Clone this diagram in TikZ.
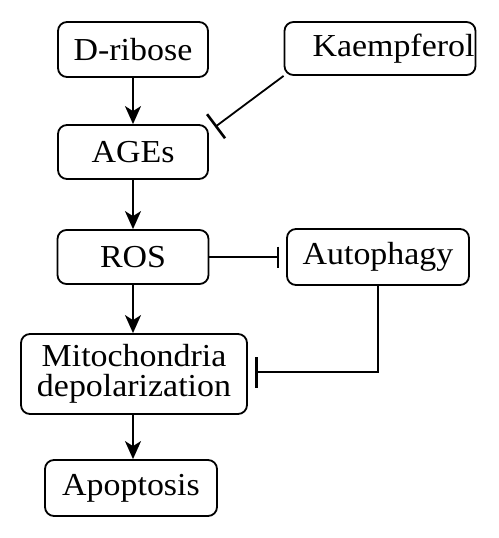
\documentclass[tikz,border=0pt]{standalone}
\usepackage{fontspec}
\setmainfont[FakeStretch=1.06]{Liberation Serif}
\usetikzlibrary{arrows.meta,calc}
\begin{document}
\begin{tikzpicture}[x=1pt,y=-1pt,
  box/.style={draw,line width=1.8pt,rounded corners=9pt,inner sep=0pt,align=center,
    font=\fontsize{32}{35}\selectfont},
  act/.style={line width=1.8pt,-{Stealth[length=18pt,width=16pt,inset=5pt]}},
  inh/.style={line width=1.8pt,-{Bar[width=#1,line width=2.6pt]}},
]
\useasboundingbox (0,0) rectangle (498,538);
\node[box,minimum width=150pt,minimum height=55pt] (dribose) at (133,49.5) {D-ribose};
\node[box,minimum width=191pt,minimum height=53pt,text width=189pt,align=right] (kaempferol) at (380,48.5) {Kaempferol};
\node[box,minimum width=150pt,minimum height=54pt] (ages) at (133,152) {AGEs};
\node[box,minimum width=151pt,minimum height=54pt] (ros) at (133,257) {ROS};
\node[box,minimum width=182pt,minimum height=56pt] (autophagy) at (378,257) {Autophagy};
\node[box,minimum width=226pt,minimum height=80pt] (mito) at (134,374) {Mitochondria\\[-5pt]depolarization};
\node[box,minimum width=172pt,minimum height=56pt] (apoptosis) at (131,488) {Apoptosis};
\coordinate (kend) at (215,127);
\draw[act] (dribose.south) -- (dribose.south |- ages.north);
\draw[act] (ages.south) -- (ages.south |- ros.north);
\draw[act] (ros.south) -- (ros.south |- mito.north);
\draw[act] (mito.south -| ros.south) -- (ros.south |- apoptosis.north);
\draw[inh=30pt] (kaempferol.south west) -- (kend);
\draw[inh=21pt,shorten >=7pt] (ros.east) -- (autophagy.west);
\draw[inh=31pt,shorten >=7pt] (autophagy.south) |- ($(mito.east)+(0,-2)$);
\end{tikzpicture}
\end{document}
